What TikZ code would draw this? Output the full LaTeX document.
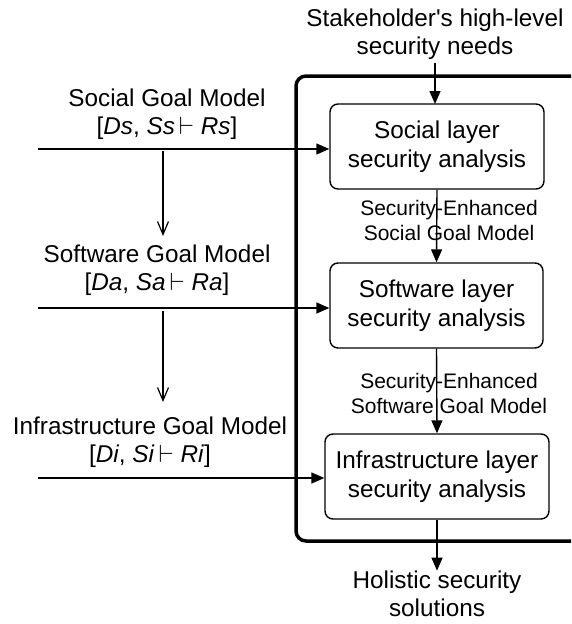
\documentclass[tikz,border=0pt]{standalone}
\usepackage{fontspec}
\setmainfont{Liberation Sans}[Ligatures=TeXOff]
\usetikzlibrary{arrows.meta}
\begin{document}
\begin{tikzpicture}[x=1pt,y=-1pt,
  txt/.style={font=\fontsize{24.3}{28.5}\selectfont, align=center, inner sep=0pt},
  lbl/.style={font=\fontsize{21}{25}\selectfont, align=center, inner sep=0pt},
  layerbox/.style={draw, rounded corners=8pt, line width=1.4pt, align=center,
    font=\fontsize{24.3}{29}\selectfont, inner sep=0pt, minimum height=85pt},
  solidarrow/.style={line width=1.4pt, -{Triangle[length=13pt,width=11pt]}},
  openarrow/.style={line width=1.2pt, -{Straight Barb[length=13pt,width=11pt]}},
  frame/.style={line width=3.5pt, rounded corners=10pt}
]
\useasboundingbox (0,0) rectangle (571,624);
\begin{scope}
\clip (0,0) rectangle (571,624);
\draw[frame] (640,76) -- (296,76) -- (296,541) -- (640,541);
\end{scope}

% right column
\node[txt] (stake) at (435,34) {Stakeholder's high-level\\security needs};
\node[layerbox, minimum width=214pt] (social) at (437,146.5) {Social layer\\security analysis};
\node[lbl] (lab1) at (449,220) {Security-Enhanced\\Social Goal Model};
\node[layerbox, minimum width=213pt] (software) at (436.5,305.5) {Software layer\\security analysis};
\node[lbl] (lab2) at (449,393) {Security-Enhanced\\Software Goal Model};
\node[layerbox, minimum width=224pt] (infra) at (437,476.5) {Infrastructure layer\\security analysis};
\node[txt] (holistic) at (437,594) {Holistic security\\solutions};

\draw[solidarrow] (stake.south -| 435,0) ++(0,3) -- (435,104);
\draw[solidarrow] (social.south) -- (software.north);
\draw[solidarrow] (software.south) -- (infra.north);
\draw[solidarrow] (infra.south) -- (holistic.north);

% left column
\node[txt] (sgm) at (167,114) {Social Goal Model\\{}[\textit{Ds}, \textit{Ss}\,$\vdash$\ \textit{Rs}]};
\node[txt] (wgm) at (157,270) {Software Goal Model\\{}[\textit{Da}, \textit{Sa}\,$\vdash$\ \textit{Ra}]};
\node[txt] (igm) at (150,442) {Infrastructure Goal Model\\{}[\textit{Di}, \textit{Si}\,$\vdash$\ \textit{Ri}]};

\coordinate (s1) at (38,149);
\coordinate (s2) at (38,308);
\coordinate (s3) at (38,478);
\draw[solidarrow] (s1) -- (s1 -| social.west);
\draw[solidarrow] (s2) -- (s2 -| software.west);
\draw[solidarrow] (s3) -- (s3 -| infra.west);

\coordinate (v1a) at (163,151);
\coordinate (v1b) at (163,236);
\coordinate (v2a) at (163,311);
\coordinate (v2b) at (163,402);
\draw[openarrow] (v1a) -- (v1b);
\draw[openarrow] (v2a) -- (v2b);
\end{tikzpicture}
\end{document}
